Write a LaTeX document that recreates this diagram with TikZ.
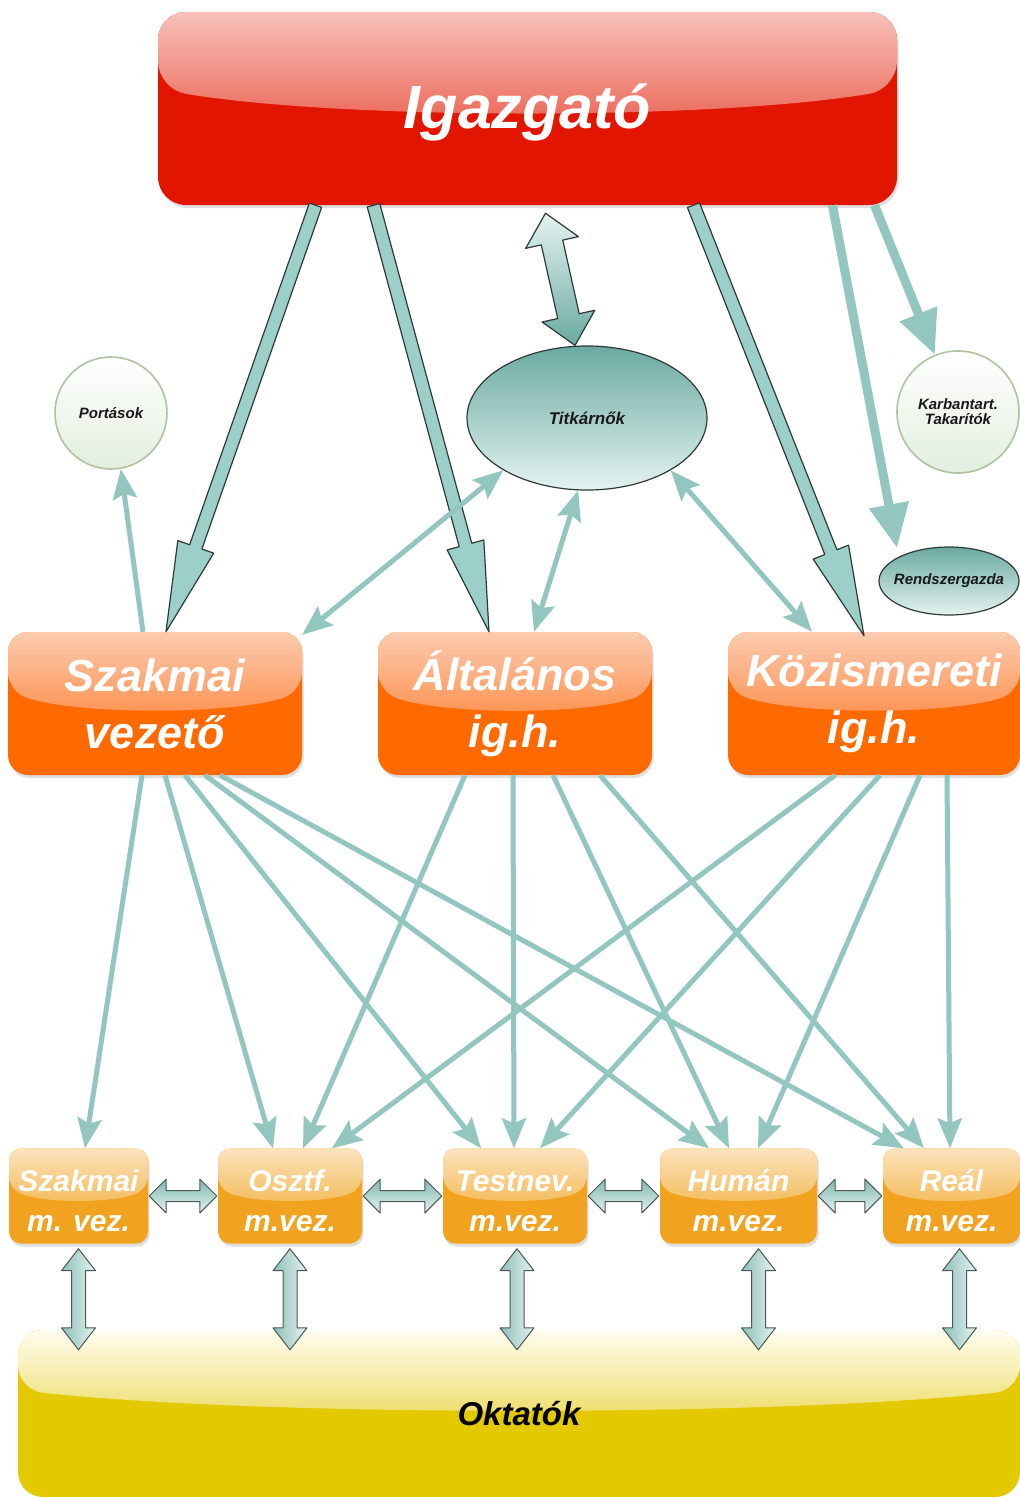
\documentclass[tikz,border=0pt]{standalone}
\usepackage{fontspec}
\setmainfont{Liberation Sans}
\usetikzlibrary{calc,shapes.geometric,arrows.meta,shadows}
\definecolor{redB}{HTML}{E21600}
\definecolor{redT}{HTML}{F7C2BA}
\definecolor{redM}{HTML}{EC6A5C}
\definecolor{orB}{HTML}{FF6A00}
\definecolor{orT}{HTML}{FCCBB0}
\definecolor{orM}{HTML}{FD9352}
\definecolor{amB}{HTML}{F1A21F}
\definecolor{amT}{HTML}{FCE3BC}
\definecolor{amM}{HTML}{F4BC5C}
\definecolor{okB}{HTML}{E2C900}
\definecolor{okT}{HTML}{FFFDF0}
\definecolor{okM}{HTML}{EEDD6A}
\definecolor{tealL}{HTML}{92C6BF}
\definecolor{tealF}{HTML}{9CCFC7}
\definecolor{tealD}{HTML}{6AAAA0}
\definecolor{tealP}{HTML}{E4F3F0}
\definecolor{outl}{HTML}{2E3A38}
\definecolor{greenE}{HTML}{AEC4A0}
\definecolor{greenP}{HTML}{E3EEDF}

% single fat arrow: style, from, to, half shaft, half head, head length
\newcommand\onearrow[6]{%
  \coordinate (faN) at ($(#3)!#6!(#2)$);
  \path[#1] ($(#2)!#4!90:(#3)$) -- ($(faN)!#4!-90:(#2)$) -- ($(faN)!#5!-90:(#2)$)
    -- (#3) -- ($(faN)!#5!90:(#2)$) -- ($(faN)!#4!90:(#2)$) -- ($(#2)!#4!-90:(#3)$) -- cycle;
}
% double fat arrow
\newcommand\twoarrow[6]{%
  \coordinate (faP) at ($(#2)!#6!(#3)$);
  \coordinate (faQ) at ($(#3)!#6!(#2)$);
  \path[#1] (#2) -- ($(faP)!#5!90:(#3)$) -- ($(faP)!#4!90:(#3)$) -- ($(faQ)!#4!-90:(#2)$)
    -- ($(faQ)!#5!-90:(#2)$) -- (#3) -- ($(faQ)!#5!90:(#2)$) -- ($(faQ)!#4!90:(#2)$)
    -- ($(faP)!#4!-90:(#3)$) -- ($(faP)!#5!-90:(#3)$) -- cycle;
}

\tikzset{
  gloss/.style n args={4}{fill=#1,
    path picture={
      \coordinate (gNW) at (path picture bounding box.north west);
      \coordinate (gNE) at (path picture bounding box.north east);
      \coordinate (gSW) at (path picture bounding box.south west);
      \coordinate (gSE) at (path picture bounding box.south east);
      \coordinate (gW) at ($(gNW)!#4!(gSW)$);
      \coordinate (gE) at ($(gNE)!#4!(gSE)$);
      \coordinate (gWb) at ($(gNW)!{#4+0.16}!(gSW)$);
      \coordinate (gEb) at ($(gNE)!{#4+0.16}!(gSE)$);
      \shade[top color=#2, bottom color=#3] (gNW) -- (gNE) -- (gE)
        .. controls ($(gEb)!0.25!(gWb)$) and ($(gEb)!0.75!(gWb)$) .. (gW) -- cycle;
    }},
  shadowed/.style={drop shadow={shadow xshift=1.5pt, shadow yshift=-3pt, opacity=0.25}},
  obox/.style={gloss={orB}{orT}{orM}{0.42}, shadowed, rounded corners=20pt,
    minimum height=143pt, inner sep=0pt, align=center, text=white,
    font=\fontsize{45}{57}\selectfont\bfseries\itshape},
  abox/.style={gloss={amB}{amT}{amM}{0.42}, shadowed, rounded corners=12pt,
    minimum height=95pt, inner sep=0pt},
  abtext/.style={align=center, text=white, yshift=-5pt,
    font=\fontsize{30}{40}\selectfont\bfseries\itshape},
  igtext/.style={text=white, yshift=-4pt, font=\fontsize{61}{61}\selectfont\bfseries\itshape},
  lbl/.style={font=\fontsize{15}{15}\selectfont\bfseries\itshape, text=black!90},
  conn/.style={draw=tealL, line width=5pt, -{Stealth[width=24pt,length=30pt,inset=5pt]}},
  conntwo/.style={draw=tealL, line width=5pt,
    {Stealth[width=24pt,length=30pt,inset=5pt]}-{Stealth[width=24pt,length=30pt,inset=5pt]}},
  fatline/.style={draw=tealL, line width=9pt, -{Triangle[width=38pt,length=44pt]}},
  bigfat/.style={fill=tealF, draw=outl, line width=1.2pt, line join=round},
  smallfat/.style={top color=tealD!85, bottom color=tealP, draw=outl!85, line width=1pt, line join=round},
  vertfat/.style={left color=tealD!75, right color=tealP, draw=outl!85, line width=1pt, line join=round},
  titfat/.style={top color=tealP, bottom color=tealD, draw=outl, line width=1.2pt, line join=round},
}

\begin{document}
\begin{tikzpicture}[x=1pt,y=-1pt]
\fill[white] (0,0) rectangle (1020,1497);
\useasboundingbox (0,0) rectangle (1020,1497);

% ---------- nodes ----------
\node[gloss={redB}{redT}{redM}{0.4}, shadowed, rounded corners=28pt,
  minimum width=739pt, minimum height=193pt, inner sep=0pt,
  label={[igtext]center:Igazgató}] (ig) at (527.5,108.5) {};

\node[obox, minimum width=294pt] (szv) at (155,703.5) {Szakmai\\vezető};
\node[obox, minimum width=274pt] (alt) at (515,703.5) {Általános\\ig.h.};
\node[obox, minimum width=292pt] (koz) at (874,703.5) {Közismereti\\ig.h.};

\node[abox, minimum width=139pt, label={[abtext]center:Szakmai\\m. vez.}] (sm1) at (78.5,1196) {};
\node[abox, minimum width=144pt, label={[abtext]center:Osztf.\\m.vez.}] (sm2) at (290,1196) {};
\node[abox, minimum width=144pt, label={[abtext]center:Testnev.\\m.vez.}] (sm3) at (515,1196) {};
\node[abox, minimum width=157pt, label={[abtext]center:Humán\\m.vez.}] (sm4) at (738.5,1196) {};
\node[abox, minimum width=137pt, label={[abtext]center:Reál\\m.vez.}] (sm5) at (951.5,1196) {};

\node[gloss={okB}{okT}{okM}{0.36}, rounded corners=25pt, minimum width=1002pt,
  minimum height=167pt, inner sep=0pt, text=black,
  font=\fontsize{33}{33}\selectfont\bfseries\itshape] (okt) at (519,1413.5) {Oktatók};

\node[circle, minimum size=112pt, inner sep=0pt, draw=greenE, line width=1.6pt,
  top color=white, bottom color=greenP, lbl] (port) at (111,413) {Portások};
\node[circle, minimum size=122pt, inner sep=0pt, draw=greenE, line width=1.6pt,
  top color=white, bottom color=greenP, lbl, align=center] (karb) at (958,412) {Karbantart.\\Takarítók};
\node[ellipse, minimum width=240pt, minimum height=144pt, inner sep=0pt, draw=outl,
  line width=1.2pt, top color=tealD, bottom color=tealP,
  font=\fontsize{17}{17}\selectfont\bfseries\itshape, text=black!90] (titk) at (587,418) {Titkárnők};
\node[ellipse, minimum width=140pt, minimum height=68pt, inner sep=0pt, draw=outl,
  line width=1.2pt, top color=tealD, bottom color=tealP,
  label={[lbl]center:Rendszergazda}] (rend) at (949,581) {};

% ---------- big arrows from Igazgató ----------
\coordinate (a1s) at ($(ig.south)+(-212,0)$);
\coordinate (a1e) at ($(szv.north)+(11,0)$);
\coordinate (a2s) at ($(ig.south)+(-154,0)$);
\coordinate (a2e) at ($(alt.north)+(-26,0)$);
\coordinate (a3s) at ($(ig.south)+(166,0)$);
\coordinate (a3e) at ($(koz.north)+(-10,4)$);
\onearrow{bigfat}{a1s}{a1e}{6.5pt}{19pt}{90pt}
\onearrow{bigfat}{a2s}{a2e}{6.5pt}{19pt}{90pt}
\onearrow{bigfat}{a3s}{a3e}{6.5pt}{19pt}{90pt}

\coordinate (t0s) at ($(ig.south)+(18,8)$);
\coordinate (t0e) at ($(titk.north)+(-12,0)$);
\twoarrow{titfat}{t0s}{t0e}{11pt}{27pt}{30pt}

\coordinate (a4s) at ($(ig.south)+(305,0)$);
\coordinate (a4e) at ($(rend.center)+(-52,-33)$);
\coordinate (a5s) at ($(ig.south)+(347,0)$);
\draw[fatline] (a4s) -- (a4e);
\draw[fatline] (a5s) -- (karb.112);

% ---------- thin connectors around Titkárnők ----------
\draw[conn] ($(szv.north)+(-12,0)$) -- (port.-80);
\draw[conntwo] (titk.212) -- ($(szv.north east)+(0,3)$);
\draw[conntwo] (titk.263) -- ($(alt.north)+(19,0)$);
\draw[conntwo] (titk.-32) -- ($(koz.north)+(-62,0)$);

% ---------- vezetők -> munkaközösség vezetők ----------
\draw[conn] ($(szv.south)+(-13,0)$) -- ($(sm1.north)+(6.5,0)$);
\draw[conn] ($(szv.south)+(10,0)$) -- ($(sm2.north)+(-17,0)$);
\draw[conn] ($(szv.south)+(30,0)$) -- ($(sm3.north)+(-34,0)$);
\draw[conn] ($(szv.south)+(50,0)$) -- ($(sm4.north)+(-29.5,0)$);
\draw[conn] ($(szv.south)+(65,0)$) -- ($(sm5.north)+(-47.5,0)$);

\draw[conn] ($(alt.south)+(-50,0)$) -- ($(sm2.north)+(13,0)$);
\draw[conn] ($(alt.south)+(-2,0)$) -- ($(sm3.north)+(-1,0)$);
\draw[conn] ($(alt.south)+(38,0)$) -- ($(sm4.north)+(-9.5,0)$);
\draw[conn] ($(alt.south)+(85,0)$) -- ($(sm5.north)+(-27.5,0)$);

\draw[conn] ($(koz.south)+(-39,0)$) -- ($(sm2.north)+(42,0)$);
\draw[conn] ($(koz.south)+(6,0)$) -- ($(sm3.north)+(25,0)$);
\draw[conn] ($(koz.south)+(46,0)$) -- ($(sm4.north)+(19.5,0)$);
\draw[conn] ($(koz.south)+(73,0)$) -- ($(sm5.north)+(-1.5,0)$);

% ---------- horizontal double arrows ----------
\coordinate (h1a) at ($(sm1.east)+(1,0)$);  \coordinate (h1b) at ($(sm2.west)+(-1,0)$);
\coordinate (h2a) at ($(sm2.east)+(1,0)$);  \coordinate (h2b) at ($(sm3.west)+(-1,0)$);
\coordinate (h3a) at ($(sm3.east)+(1,0)$);  \coordinate (h3b) at ($(sm4.west)+(-1,0)$);
\coordinate (h4a) at ($(sm4.east)+(1,0)$);  \coordinate (h4b) at ($(sm5.west)+(-1,0)$);
\twoarrow{smallfat}{h1a}{h1b}{5.5pt}{17pt}{17pt}
\twoarrow{smallfat}{h2a}{h2b}{5.5pt}{17pt}{17pt}
\twoarrow{smallfat}{h3a}{h3b}{5.5pt}{17pt}{17pt}
\twoarrow{smallfat}{h4a}{h4b}{5.5pt}{17pt}{17pt}

% ---------- vertical double arrows ----------
\coordinate (v1a) at ($(sm1.south)+(0,5)$);   \coordinate (v1b) at ($(v1a |- okt.north)+(0,20)$);
\coordinate (v2a) at ($(sm2.south)+(0,5)$);   \coordinate (v2b) at ($(v2a |- okt.north)+(0,20)$);
\coordinate (v3a) at ($(sm3.south)+(2,5)$);   \coordinate (v3b) at ($(v3a |- okt.north)+(0,20)$);
\coordinate (v4a) at ($(sm4.south)+(20,5)$);  \coordinate (v4b) at ($(v4a |- okt.north)+(0,20)$);
\coordinate (v5a) at ($(sm5.south)+(8,5)$);   \coordinate (v5b) at ($(v5a |- okt.north)+(0,20)$);
\twoarrow{vertfat}{v1a}{v1b}{7pt}{17pt}{22pt}
\twoarrow{vertfat}{v2a}{v2b}{7pt}{17pt}{22pt}
\twoarrow{vertfat}{v3a}{v3b}{7pt}{17pt}{22pt}
\twoarrow{vertfat}{v4a}{v4b}{7pt}{17pt}{22pt}
\twoarrow{vertfat}{v5a}{v5b}{7pt}{17pt}{22pt}
\end{tikzpicture}
\end{document}
